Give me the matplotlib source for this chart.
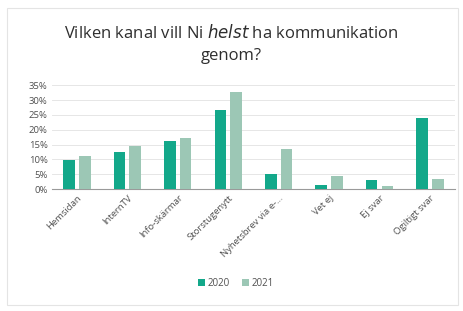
import matplotlib.pyplot as plt
import numpy as np
from matplotlib.patches import Rectangle
from matplotlib.ticker import PercentFormatter

categories = ["Hemsidan", "InternTV", "Info-skärmar", "Storstugenytt",
              "Nyhetsbrev via e-…", "Vet ej", "Ej svar", "Ogiltigt svar"]
v2020 = [0.098, 0.126, 0.162, 0.265, 0.052, 0.015, 0.029, 0.240]
v2021 = [0.111, 0.144, 0.171, 0.327, 0.136, 0.043, 0.012, 0.035]

c2020 = "#13a88a"
c2021 = "#9cc7b5"

plt.rcParams["font.family"] = ["Open Sans", "DejaVu Sans"]

fig = plt.figure(figsize=(4.63, 3.11), dpi=100)
fig.patches.append(Rectangle((0.015, 0.02), 0.975, 0.955, transform=fig.transFigure,
                             fill=False, edgecolor="#e4e4e4", lw=0.8))

ax = fig.add_axes([0.112, 0.392, 0.871, 0.334])
x = np.arange(len(categories))
w = 0.23
ax.bar(x - 0.155, v2020, width=w, color=c2020, label="2020", zorder=3)
ax.bar(x + 0.155, v2021, width=w, color=c2021, label="2021", zorder=3)

ax.set_ylim(0, 0.35)
ax.set_xlim(-0.5, len(categories) - 0.5)
ax.set_yticks(np.arange(0, 0.36, 0.05))
ax.yaxis.set_major_formatter(PercentFormatter(1.0, decimals=0))
ax.grid(axis="y", color="#e6e6e6", lw=0.7, zorder=0)
for s in ["top", "right", "left"]:
    ax.spines[s].set_visible(False)
ax.spines["bottom"].set_color("#9a9a9a")
ax.tick_params(axis="both", length=0, labelsize=6.8, colors="#505050", pad=3)
ax.set_xticks(x)
ax.set_xticklabels(categories, rotation=45, ha="right", rotation_mode="anchor")

fig.text(0.5, 0.858, "Vilken kanal vill Ni $\\it{helst}$ ha kommunikation\ngenom?",
         ha="center", va="center", fontsize=12, color="#2e2e2e", linespacing=1.55)

fig.legend(loc="center", bbox_to_anchor=(0.51, 0.09), ncol=2, frameon=False,
           fontsize=7, handlelength=0.7, handleheight=0.7, columnspacing=1.2,
           handletextpad=0.3, labelcolor="#505050")

fig.savefig("out.png", dpi=100, facecolor="white")
